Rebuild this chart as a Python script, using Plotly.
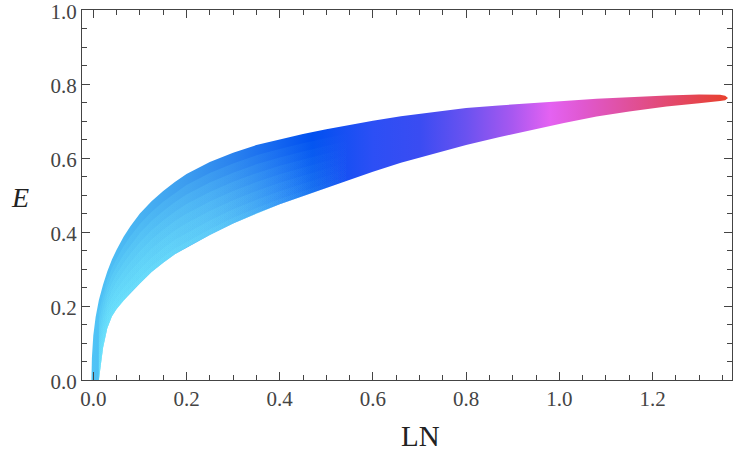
import plotly.graph_objects as go

# Band boundaries, on a shared LN grid
GRID_LN = [0.012, 0.016, 0.021, 0.030, 0.040, 0.050, 0.065, 0.080, 0.100, 0.125,
           0.150, 0.175, 0.200, 0.250, 0.300, 0.350, 0.400, 0.450, 0.500, 0.550,
           0.600, 0.660, 0.730, 0.800, 0.870, 0.940, 1.010, 1.080, 1.150, 1.230,
           1.300, 1.345]
UPPER_E = [0.216, 0.235, 0.258, 0.293, 0.326, 0.352, 0.387, 0.416, 0.450, 0.483,
           0.511, 0.535, 0.557, 0.589, 0.614, 0.635, 0.651, 0.665, 0.678, 0.690,
           0.701, 0.713, 0.725, 0.735, 0.742, 0.749, 0.754, 0.760, 0.765, 0.769,
           0.772, 0.771]
LOWER_E = [0.000, 0.040, 0.088, 0.140, 0.172, 0.192, 0.215, 0.236, 0.261, 0.292,
           0.317, 0.340, 0.358, 0.392, 0.423, 0.450, 0.475, 0.497, 0.519, 0.541,
           0.563, 0.587, 0.612, 0.635, 0.656, 0.676, 0.695, 0.712, 0.726, 0.739,
           0.748, 0.754]

# Left edge of the band near LN = 0 (upper side only)
START_LN = [-0.004, -0.003, 0.000, 0.005]
START_E = [0.000, 0.060, 0.120, 0.170]
# Rounded right-hand end of the band
END_LN = [1.356, 1.362, 1.356]
END_E = [0.768, 0.762, 0.756]

# Colour along LN (upper part of the band)
COL_LN = [0.00, 0.10, 0.20, 0.30, 0.40, 0.47, 0.60, 0.70, 0.80, 0.90,
          0.98, 1.05, 1.15, 1.25, 1.36]
COL_C = ["#50c4f6", "#48b2f2", "#3c9cef", "#2a82ee", "#1264f0", "#0050f0",
         "#2c4ff5", "#3a4cf2", "#6a52f0", "#a858f0", "#e462f2", "#e058d0",
         "#e0509a", "#e34868", "#e8402c"]

# Light cyan shading of the lower-left part of the band
SHADE_LN = [0.0, 0.25, 0.50]
SHADE_C = ["rgba(120,240,255,0.15)", "rgba(120,240,255,0.13)", "rgba(120,240,255,0.0)"]
SHADE_FRACS = [0.85, 0.72, 0.59, 0.46, 0.33, 0.2, 0.08]
SHADE_MAX_LN = 0.55


def scale_for(stops_ln, stops_c, lo, hi):
    out = []
    for v, c in zip(stops_ln, stops_c):
        p = min(max((v - lo) / (hi - lo), 0.0), 1.0)
        out.append([p, c])
    out[0][0] = 0.0
    out[-1][0] = 1.0
    return out


xs = START_LN + GRID_LN + END_LN + GRID_LN[::-1]
ys = START_E + UPPER_E + END_E + LOWER_E[::-1]

fig = go.Figure()
fig.add_trace(go.Scatter(
    x=xs, y=ys, mode="lines", fill="toself", line=dict(width=0),
    fillgradient=dict(type="horizontal",
                      colorscale=scale_for(COL_LN, COL_C, min(xs), max(xs))),
    hoverinfo="skip", showlegend=False,
))

n = sum(1 for v in GRID_LN if v <= SHADE_MAX_LN)
g = GRID_LN[:n]
for f in SHADE_FRACS:
    inner = [lo + f * (up - lo) for lo, up in zip(LOWER_E[:n], UPPER_E[:n])]
    sx = g + g[::-1]
    sy = LOWER_E[:n] + inner[::-1]
    fig.add_trace(go.Scatter(
        x=sx, y=sy, mode="lines", fill="toself", line=dict(width=0),
        fillgradient=dict(type="horizontal",
                          colorscale=scale_for(SHADE_LN, SHADE_C, min(sx), max(sx))),
        hoverinfo="skip", showlegend=False,
    ))

FONT = "Liberation Serif"
axis_common = dict(
    showline=True, mirror="ticks", linecolor="#444", linewidth=1,
    ticks="inside", ticklen=8, tickcolor="#444", tickwidth=1,
    showgrid=False, zeroline=False, tickformat=".1f", automargin=False,
    ticklabeloverflow="allow",
    tickfont=dict(family=FONT, size=21, color="#444"),
    minor=dict(ticks="inside", ticklen=5, tickcolor="#444", dtick=0.05,
               showgrid=False),
)

fig.update_xaxes(range=[-0.02425, 1.3706], tick0=0, dtick=0.2, **axis_common)
fig.update_yaxes(range=[0, 1.0001], tick0=0, dtick=0.2, ticklabelshift=2,
                 **axis_common)

fig.add_annotation(text="<i>E</i>", x=-0.0954, y=0.492, xref="paper", yref="paper",
                   xanchor="center", yanchor="middle", showarrow=False,
                   font=dict(family=FONT, size=28, color="#222"))
fig.add_annotation(text="LN", x=0.52, y=-0.151, xref="paper", yref="paper",
                   xanchor="center", yanchor="middle", showarrow=False,
                   font=dict(family=FONT, size=29, color="#222"))

fig.update_layout(
    width=733, height=452,
    margin=dict(l=82, r=1, t=10, b=72),
    plot_bgcolor="white", paper_bgcolor="white",
    font=dict(family=FONT, size=21, color="#444"),
)

fig.write_html("out.html", config={"displayModeBar": False},
               post_script="document.body.style.margin='0';")
